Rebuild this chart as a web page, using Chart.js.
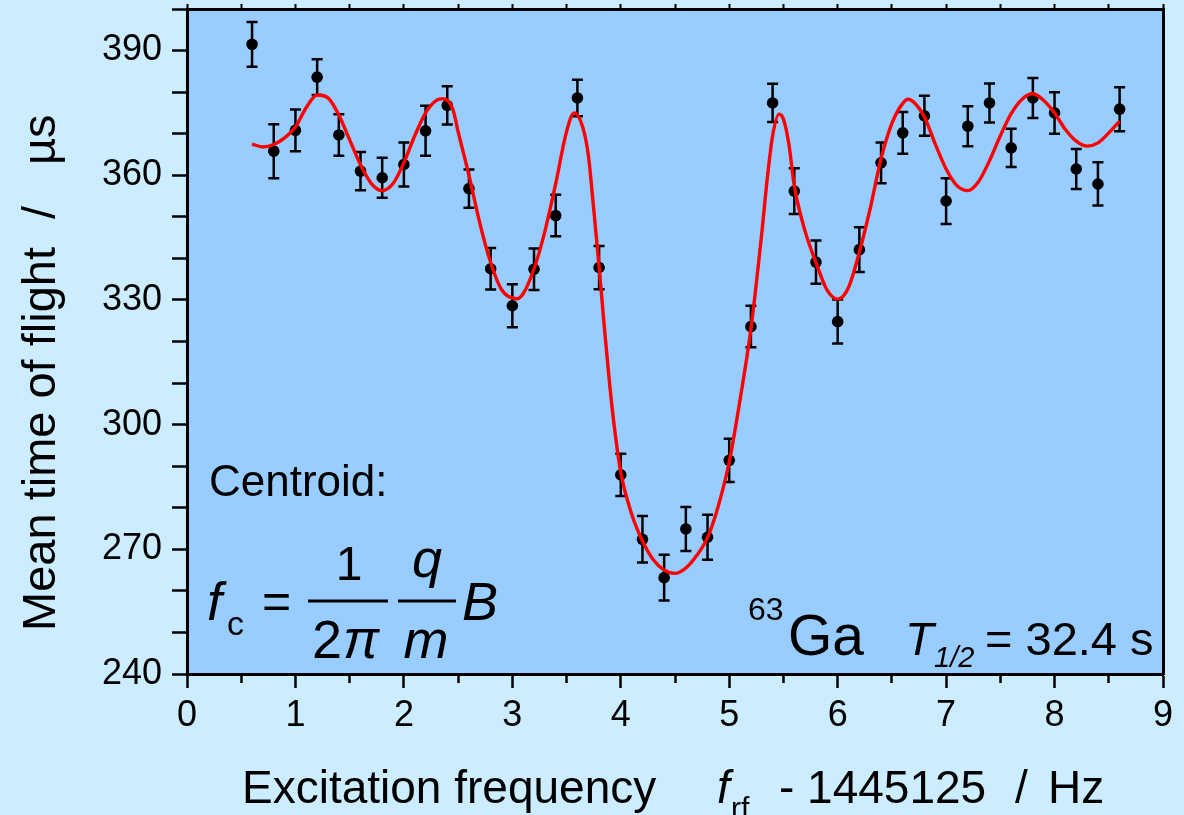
<!DOCTYPE html>
<html>
<head>
<meta charset="utf-8">
<script src="https://cdn.jsdelivr.net/npm/chart.js@4.4.1/dist/chart.umd.min.js"></script>
<style>
  html, body { margin: 0; padding: 0; background: #CCECFF; }
  #wrap { width: 1184px; height: 815px; position: relative; }
</style>
</head>
<body>
<div id="wrap"><canvas id="c"></canvas></div>
<script>
// ---- data ----
const freq = [0.6,0.8,1.0,1.2,1.4,1.6,1.8,2.0,2.2,2.4,2.6,2.8,3.0,3.2,3.4,3.6,3.8,4.0,4.2,4.4,4.6,4.8,5.0,5.2,5.4,5.6,5.8,6.0,6.2,6.4,6.6,6.8,7.0,7.2,7.4,7.6,7.8,8.0,8.2,8.4,8.6];
const tof = [391.5,365.8,370.8,383.6,369.7,361.0,359.4,362.6,370.7,376.8,356.8,337.5,328.6,337.4,350.3,378.6,337.8,287.9,272.4,263.2,274.9,272.9,291.4,323.6,377.4,356.2,339.1,324.8,342.1,363.0,370.2,374.3,353.8,371.8,377.4,366.6,378.6,375.0,361.5,357.9,375.9];
const tofErr = [5.4,6.5,5.0,4.3,5.0,4.6,4.8,5.3,6.0,4.6,4.6,5.0,5.2,5.0,5.0,4.4,5.2,5.1,5.6,5.5,5.3,5.4,5.2,5.0,4.6,5.5,5.2,5.3,5.4,4.9,5.0,4.8,5.5,4.8,4.7,4.6,4.8,5.0,4.8,5.2,5.3];

const fitX = [0.6,0.7,0.8,0.9,1.0,1.1,1.2,1.3,1.4,1.5,1.6,1.7,1.8,1.9,2.0,2.1,2.2,2.3,2.36,2.45,2.5,2.6,2.7,2.8,2.9,3.04,3.1,3.2,3.3,3.4,3.5,3.57,3.65,3.7,3.75,3.8,3.85,3.9,3.95,4.0,4.1,4.2,4.3,4.4,4.5,4.6,4.7,4.8,4.9,5.0,5.1,5.2,5.3,5.35,5.4,5.46,5.5,5.55,5.6,5.7,5.8,5.9,6.0,6.1,6.2,6.3,6.4,6.5,6.6,6.65,6.7,6.8,6.9,7.0,7.1,7.2,7.3,7.4,7.5,7.6,7.7,7.8,7.9,8.0,8.1,8.2,8.3,8.4,8.5,8.6];
const fitY = [367.5,366.8,367.4,369.0,371.6,376.3,379.3,378.6,374.5,368.5,362.5,358.0,356.3,358.0,363.0,369.5,375.0,378.0,378.4,376.0,370.5,360.0,348.5,339.0,332.5,330.3,331.5,337.5,346.5,358.0,370.5,375.0,371.5,365.0,352.0,338.0,323.0,309.0,297.5,288.5,278.5,272.0,267.5,265.0,264.2,265.5,268.5,272.8,280.5,291.0,306.0,323.0,346.0,359.0,369.5,374.7,373.5,367.5,357.5,346.5,339.0,332.5,330.2,333.0,341.5,352.0,364.0,372.5,377.3,378.3,377.6,374.0,367.5,361.5,357.5,356.3,358.5,363.5,369.5,374.8,378.3,379.6,378.0,375.0,371.0,368.2,367.0,367.8,370.2,373.0];

const xTickLabels = ['0','1','2','3','4','5','6','7','8','9'];
const yTickLabels = ['240','270','300','330','360','390'];

const FONT = '"Liberation Sans", Arial, Helvetica, sans-serif';

const bgPlugin = {
  id: 'bg',
  beforeDraw(chart) {
    const {ctx, chartArea: a} = chart;
    ctx.save();
    ctx.fillStyle = '#CCECFF';
    ctx.fillRect(0, 0, chart.width, chart.height);
    ctx.fillStyle = '#99CCFF';
    ctx.fillRect(a.left, a.top, a.right - a.left, a.bottom - a.top);
    ctx.restore();
  }
};

const errPlugin = {
  id: 'errbars',
  beforeDatasetsDraw(chart) {
    const {ctx} = chart;
    const xs = chart.scales.x, ys = chart.scales.y;
    ctx.save();
    ctx.strokeStyle = '#000';
    ctx.lineWidth = 2.5;
    for (let i = 0; i < freq.length; i++) {
      const px = xs.getPixelForValue(freq[i]);
      const pTop = ys.getPixelForValue(tof[i] + tofErr[i]);
      const pBot = ys.getPixelForValue(tof[i] - tofErr[i]);
      ctx.beginPath();
      ctx.moveTo(px, pTop); ctx.lineTo(px, pBot);
      ctx.moveTo(px - 5.5, pTop); ctx.lineTo(px + 5.5, pTop);
      ctx.moveTo(px - 5.5, pBot); ctx.lineTo(px + 5.5, pBot);
      ctx.stroke();
    }
    ctx.restore();
  }
};

function txt(ctx, s, x, y, size, italic, align) {
  ctx.font = (italic ? 'italic ' : '') + size + 'px ' + FONT;
  ctx.textAlign = align || 'left';
  ctx.textBaseline = 'alphabetic';
  ctx.fillText(s, x, y);
}

const textPlugin = {
  id: 'texts',
  afterDraw(chart) {
    const {ctx} = chart;
    ctx.save();
    ctx.fillStyle = '#000';
    // y axis title
    ctx.save();
    ctx.translate(55, 631);
    ctx.rotate(-Math.PI / 2);
    txt(ctx, 'Mean time of flight', 0, 0, 47, false);
    txt(ctx, '/', 412, 0, 47, false);
    txt(ctx, 'µs', 466, 0, 47, false);
    ctx.restore();
    // x axis title
    txt(ctx, 'Excitation frequency', 242, 803, 46, false);
    txt(ctx, 'f', 717, 803, 46, true);
    txt(ctx, 'rf', 731, 818, 30, false);
    txt(ctx, '- 1445125', 779, 803, 46, false);
    txt(ctx, '/', 1015, 803, 46, false);
    txt(ctx, 'Hz', 1048, 803, 46, false);
    // Centroid label
    txt(ctx, 'Centroid:', 209, 496, 44, false);
    // formula
    txt(ctx, 'f', 207, 620, 54, true);
    txt(ctx, 'c', 227, 635, 34, false);
    txt(ctx, '=', 262, 618, 50, false);
    ctx.fillRect(308, 599.5, 80, 3);
    ctx.fillRect(398, 599.5, 58, 3);
    txt(ctx, '1', 349, 580, 48, false, 'center');
    txt(ctx, '2', 312, 658, 54, false);
    txt(ctx, 'π', 343, 658, 54, true);
    txt(ctx, 'q', 427, 577, 54, true, 'center');
    txt(ctx, 'm', 426, 658, 54, true, 'center');
    txt(ctx, 'B', 462, 620, 54, true);
    // isotope label
    txt(ctx, '63', 748, 620, 32, false);
    txt(ctx, 'Ga', 788, 655, 57, false);
    txt(ctx, 'T', 905, 655, 47, true);
    txt(ctx, '1/2', 934, 667, 29, true);
    txt(ctx, '= 32.4 s', 985, 655, 47, false);
    ctx.restore();
  }
};

const scatterData = freq.map((f, i) => ({x: f, y: tof[i]}));
const fitData = fitX.map((f, i) => ({x: f, y: fitY[i]}));

function noPad(s) { s.paddingTop = 0; s.paddingBottom = 0; s.paddingLeft = 0; s.paddingRight = 0; }

new Chart(document.getElementById('c'), {
  type: 'scatter',
  data: {
    datasets: [
      {
        label: 'data',
        data: scatterData,
        order: 2,
        pointRadius: 5.8,
        pointHoverRadius: 5.8,
        pointBackgroundColor: '#000',
        pointBorderColor: '#000',
        pointBorderWidth: 0,
        showLine: false
      },
      {
        label: 'fit',
        data: fitData,
        order: 1,
        type: 'line',
        borderColor: '#FF0000',
        borderWidth: 3.4,
        pointRadius: 0,
        fill: false,
        cubicInterpolationMode: 'monotone',
        showLine: true
      }
    ]
  },
  options: {
    responsive: true,
    maintainAspectRatio: false,
    animation: false,
    events: [],
    layout: { padding: { left: 0, right: 21, top: 9, bottom: 0 } },
    plugins: { legend: { display: false }, tooltip: { enabled: false } },
    scales: {
      x: {
        type: 'linear', position: 'bottom', min: 0, max: 9,
        afterFit: s => { s.height = 141; noPad(s); },
        border: { display: true, color: '#000', width: 3 },
        grid: {
          drawOnChartArea: false, drawTicks: true, tickLength: 14,
          tickColor: '#000', tickWidth: 2.5,
          tickBorderDash: c => (c.tick && Number.isInteger(c.tick.value)) ? [] : [7, 100]
        },
        ticks: {
          stepSize: 0.5, autoSkip: false, maxRotation: 0, padding: 6,
          color: '#000', font: { family: FONT, size: 36 },
          callback: v => Number.isInteger(v) ? xTickLabels[v] : ''
        }
      },
      x2: {
        type: 'linear', axis: 'x', position: 'top', min: 0, max: 9,
        afterFit: s => { s.height = 0; noPad(s); },
        border: { display: true, color: '#000', width: 3 },
        grid: { drawOnChartArea: false, drawTicks: true, tickLength: 5, tickColor: '#000', tickWidth: 2 },
        ticks: { display: false, stepSize: 0.5, autoSkip: false }
      },
      y: {
        type: 'linear', position: 'left', min: 240, max: 400,
        afterFit: s => { s.width = 187; noPad(s); },
        border: { display: true, color: '#000', width: 3 },
        grid: { drawOnChartArea: false, drawTicks: true, tickLength: 15, tickColor: '#000', tickWidth: 2.5 },
        ticks: {
          stepSize: 10, autoSkip: false, padding: 10,
          color: '#000', font: { family: FONT, size: 36 },
          callback: v => ((v - 240) % 30 === 0) ? yTickLabels[(v - 240) / 30] : ''
        }
      },
      y2: {
        type: 'linear', axis: 'y', position: 'right', min: 240, max: 400,
        afterFit: s => { s.width = 0; noPad(s); },
        border: { display: true, color: '#000', width: 3 },
        grid: { drawOnChartArea: false, drawTicks: false },
        ticks: { display: false }
      }
    }
  },
  plugins: [bgPlugin, errPlugin, textPlugin]
});
</script>
</body>
</html>
